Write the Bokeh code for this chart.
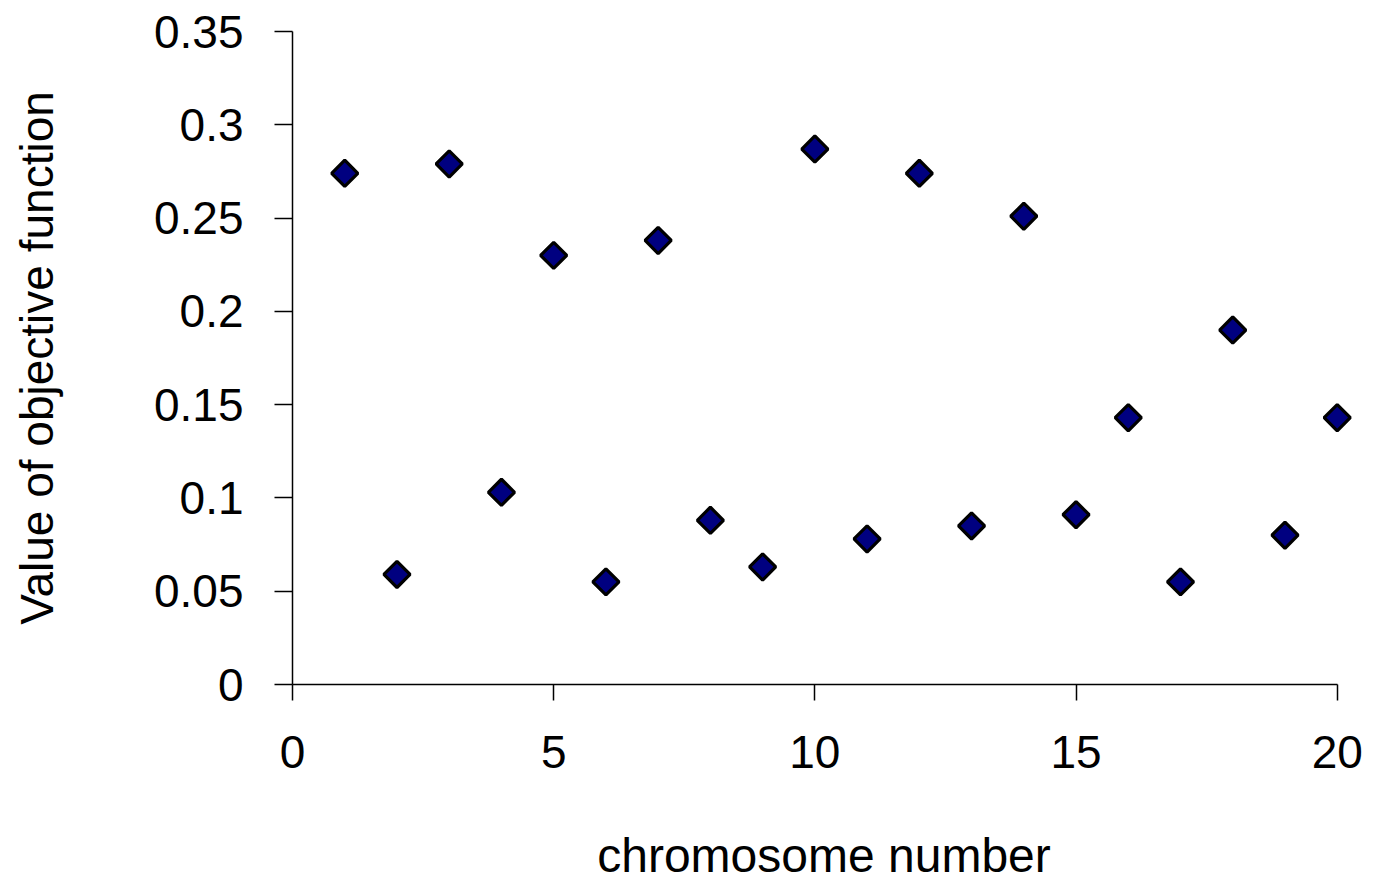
from bokeh.plotting import figure
from bokeh.models import Range1d, FixedTicker, ColumnDataSource
from bokeh.embed import file_html
from bokeh.resources import INLINE
import math

# Data
chromosome = [1, 2, 3, 4, 5, 6, 7, 8, 9, 10, 11, 12, 13, 14, 15, 16, 17, 18, 19, 20]
objective = [0.274, 0.059, 0.279, 0.103, 0.230, 0.055, 0.238, 0.088, 0.063, 0.287,
             0.078, 0.274, 0.085, 0.251, 0.091, 0.143, 0.055, 0.190, 0.080, 0.143]

x_ticks = [0, 5, 10, 15, 20]
x_tick_labels = ["0", "5", "10", "15", "20"]
y_ticks = [0, 0.05, 0.1, 0.15, 0.2, 0.25, 0.3, 0.35]
y_tick_labels = ["0", "0.05", "0.1", "0.15", "0.2", "0.25", "0.3", "0.35"]

FONT = "Liberation Sans"

p = figure(width=1365, height=885, output_backend="svg", toolbar_location=None,
           x_range=Range1d(0, 20.35), y_range=Range1d(0, 0.35))
p.min_border_left = 292
p.min_border_right = 10
p.min_border_top = 31
p.min_border_bottom = 201
p.outline_line_color = None
p.xgrid.visible = False
p.ygrid.visible = False
p.background_fill_color = "white"
p.border_fill_color = "white"

src = ColumnDataSource(dict(x=chromosome, y=objective))
p.scatter("x", "y", source=src, marker="square", angle=math.pi / 4, size=18.5,
          fill_color="#000080", line_color="black", line_width=3.2)

xa = p.xaxis[0]
xa.ticker = FixedTicker(ticks=x_ticks)
xa.major_label_overrides = {t: l for t, l in zip(x_ticks, x_tick_labels)}
xa.bounds = (0, 20)
xa.minor_tick_line_color = None
xa.major_tick_in = 0
xa.major_tick_out = 16
xa.axis_line_width = 1.5
xa.major_tick_line_width = 1.5
xa.major_label_text_font = FONT
xa.major_label_text_font_size = "46px"
xa.major_label_text_color = "black"
xa.major_label_standoff = 35
xa.axis_label = "chromosome number"
xa.axis_label_text_font = FONT
xa.axis_label_text_font_size = "48px"
xa.axis_label_text_font_style = "normal"
xa.axis_label_text_color = "black"
xa.axis_label_standoff = 58

ya = p.yaxis[0]
ya.ticker = FixedTicker(ticks=y_ticks)
ya.major_label_overrides = {t: l for t, l in zip(y_ticks, y_tick_labels)}
ya.minor_tick_line_color = None
ya.major_tick_in = 0
ya.major_tick_out = 18
ya.axis_line_width = 1.5
ya.major_tick_line_width = 1.5
ya.major_label_text_font = FONT
ya.major_label_text_font_size = "46px"
ya.major_label_text_color = "black"
ya.major_label_standoff = 31
ya.axis_label = "Value of objective function"
ya.axis_label_text_font = FONT
ya.axis_label_text_font_size = "46px"
ya.axis_label_text_font_style = "normal"
ya.axis_label_text_color = "black"
ya.axis_label_standoff = 88

open("out.html", "w").write(file_html(p, INLINE))
